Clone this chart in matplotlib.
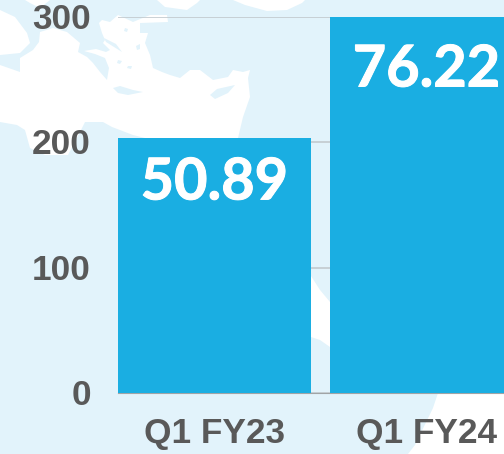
import matplotlib
matplotlib.use("Agg")
import matplotlib.pyplot as plt
import matplotlib.patheffects as pe
from matplotlib.patches import Polygon
from matplotlib.transforms import ScaledTranslation

quarters = ["Q1 FY23", "Q1 FY24"]
bar_heights = [203.5, 305]
bar_labels = ["50.89", "76.22"]
y_ticks = [0, 100, 200, 300]

land_color = "#e2f3fb"
bar_color = "#1aaee2"
text_color = "#595959"

W, H = 504, 454

# background map, white sea on pale land (pixel coords, decoration only)
sea_main = [(0, 65), (20, 72), (20, 58), (33, 50), (39, 42), (40, 32), (53, 28), (67, 32), (80, 43),
            (78, 52), (87, 57), (93, 63), (100, 72), (107, 80), (109, 68), (105, 58), (95, 54), (84, 51),
            (96, 49), (106, 52), (110, 50), (103, 43), (105, 40), (102, 33), (99, 23), (102, 20), (110, 22),
            (118, 15), (133, 22), (150, 15), (167, 15), (168, 22), (140, 23), (140, 33), (148, 33),
            (145, 43), (150, 55), (153, 68), (162, 72), (170, 75), (180, 78), (190, 70), (200, 70),
            (213, 80), (228, 77), (233, 70), (243, 72), (250, 70), (248, 78), (250, 97), (243, 117),
            (238, 138), (145, 138), (133, 135), (112, 127), (103, 122), (85, 122), (80, 132), (68, 155),
            (45, 155), (30, 148), (25, 130), (17, 125), (0, 122)]
sea_parts = [
    [(0, 10), (15, 17), (27, 33), (30, 43), (20, 53), (0, 55)],
    [(25, 0), (30, 3), (40, 8), (50, 0)],
    [(157, 0), (165, 7), (187, 10), (197, 3), (200, 0)],
    [(233, 0), (245, 5), (267, 11), (287, 10), (302, 3), (305, 0)],
    [(311, 276), (320, 290), (330, 302), (330, 347), (320, 340), (311, 337)],
    [(438, 393), (504, 393), (504, 454), (408, 454), (415, 445), (433, 408)],
]
land_parts = [
    [(113, 88), (120, 86), (133, 90), (143, 92), (128, 95), (118, 93)],
    [(210, 95), (217, 89), (235, 85), (228, 93), (215, 99)],
    [(125, 28), (128, 29), (127, 32), (124, 31)],
    [(136, 46), (140, 44), (140, 49), (137, 50)],
    [(118, 60), (122, 61), (120, 64), (117, 63)],
    [(104, 38), (116, 44), (122, 52), (114, 47), (106, 42)],
    [(128, 66), (132, 66), (131, 69), (127, 68)],
]

fig = plt.figure(figsize=(W / 100, H / 100), dpi=100, facecolor=land_color)

bg = fig.add_axes([0, 0, 1, 1], zorder=0)
bg.set_xlim(0, W)
bg.set_ylim(H, 0)
bg.axis("off")
for pts in [sea_main] + sea_parts:
    bg.add_patch(Polygon(pts, closed=True, fc="white", ec="none"))
for pts in land_parts:
    bg.add_patch(Polygon(pts, closed=True, fc=land_color, ec="none"))

# plot area runs past the right edge, the second bar is cut off by the figure
ax = fig.add_axes([118 / W, (H - 393) / H, (W - 118) / W, 376 / H], zorder=1)
ax.patch.set_alpha(0)
x = range(len(quarters))
ax.bar(x, bar_heights, width=193 / 212, color=bar_color, zorder=3)
ax.set_xlim(-0.455, 1.3656)
ax.set_ylim(0, 300)
ax.set_yticks(y_ticks)
ax.set_xticks(list(x))
ax.set_xticklabels(quarters)
ax.grid(axis="y", color="#c2cace", lw=1.2, zorder=1)
ax.set_axisbelow(True)
for s in ["top", "right", "left"]:
    ax.spines[s].set_visible(False)
ax.spines["bottom"].set_color("#a0a4a6")
ax.tick_params(length=0)
ax.tick_params(axis="y", pad=19.5)
ax.tick_params(axis="x", pad=17.5)
for lab in ax.get_yticklabels() + ax.get_xticklabels():
    lab.set_fontfamily("Liberation Sans")
    lab.set_fontweight("bold")
    lab.set_color(text_color)
    lab.set_fontsize(25.4)
for lab in ax.get_yticklabels():
    lab.set_transform(lab.get_transform() + ScaledTranslation(0, 1 / 100, fig.dpi_scale_trans))

label_drop = [-45, -53]
for i, txt in enumerate(bar_labels):
    ax.annotate(txt, (i, min(bar_heights[i], 300)), xytext=(0, label_drop[i] * 0.72),
                textcoords="offset points", ha="center", va="center", color="white",
                fontsize=41.5, fontweight="bold", fontfamily="Lato", zorder=4,
                path_effects=[pe.withStroke(linewidth=0.7, foreground="white")])

fig.savefig("out.png", dpi=100, facecolor=fig.get_facecolor())
